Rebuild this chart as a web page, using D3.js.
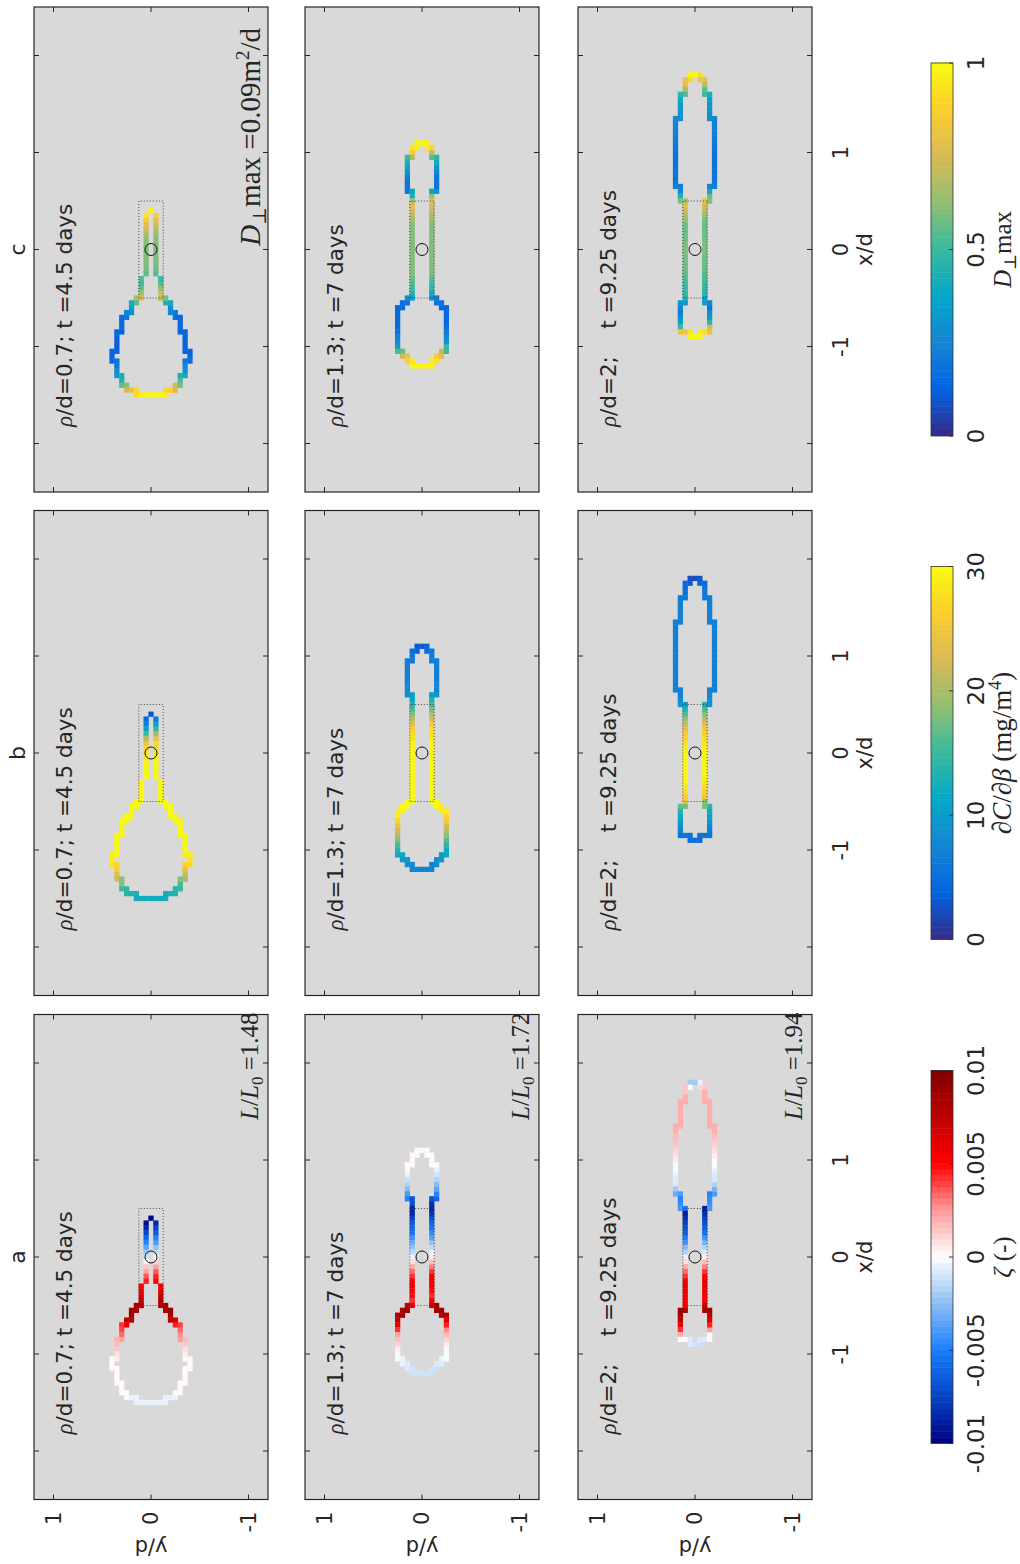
<!DOCTYPE html>
<html><head><meta charset="utf-8">
<script src="https://cdn.jsdelivr.net/npm/d3@7"></script>
<style>
body{margin:0;background:#fff}
text{font-family:"DejaVu Sans",sans-serif;fill:#262626}
.serif{font-family:"Liberation Serif","DejaVu Serif",serif}
</style>
</head><body>
<svg id="fig" width="1020" height="1564"></svg>
<script>
// ---------------- data ----------------
const columnTitles = ["a", "b", "c"];
const rowLabels = ["ρ/d=0.7; t =4.5 days", "ρ/d=1.3; t =7 days", "ρ/d=2;    t =9.25 days"];
const lengthRatios = ["1.48", "1.72", "1.94"];
const dperpMaxText = "0.09";
const xTicks = [-2, -1, 0, 1, 2];
const xTickLabels = ["", "-1", "0", "1", ""];
const yTicks = [1, 0, -1];
const yTickLabels = ["1", "0", "-1"];

// outline profiles: [x/d, half width y/d]
const profileRow1 = [[0.40,0.02],[0.30,0.04],[0.10,0.05],[-0.15,0.055],[-0.25,0.07],[-0.35,0.09],[-0.48,0.115],
  [-0.60,0.20],[-0.72,0.28],[-0.86,0.33],[-1.00,0.37],[-1.13,0.38],[-1.27,0.355],[-1.38,0.29],[-1.46,0.20],[-1.50,0.10],[-1.50,0.0]];
const profileRow2 = [[1.10,0.05],[1.03,0.10],[0.92,0.13],[0.75,0.15],[0.62,0.14],[0.55,0.11],[0.50,0.09],[0.25,0.09],[0.0,0.09],
  [-0.25,0.09],[-0.45,0.09],[-0.52,0.14],[-0.62,0.23],[-0.79,0.27],[-0.97,0.25],[-1.07,0.21],[-1.15,0.12],[-1.19,0.05]];
const profileRow3 = [[1.82,0.03],[1.71,0.09],[1.54,0.145],[1.30,0.185],[1.10,0.205],[0.96,0.21],[0.75,0.20],[0.62,0.165],[0.52,0.13],
  [0.48,0.09],[0.25,0.09],[0.0,0.09],[-0.25,0.09],[-0.48,0.09],[-0.54,0.13],[-0.62,0.17],[-0.76,0.17],[-0.83,0.13],[-0.88,0.05]];

// values along the profiles
const zetaRow1 = [-0.01,-0.008,-0.003,0.003,0.005,0.006,0.008,0.009,0.004,0.002,0.0005,0,0,0,-0.0005,-0.0005,-0.0005];
const zetaRow2 = [0,0,0,-0.002,-0.005,-0.008,-0.009,-0.005,0,0.006,0.004,0.009,0.008,0.002,0,-0.0005,-0.001,-0.001];
const zetaRow3 = [-0.002,0.002,0.002,0.002,0.001,0,-0.001,-0.005,-0.004,-0.009,-0.006,0,0.006,0.005,0.009,0.008,0.003,0,-0.001];
const gradRow1 = [3,8,27,30,30,30,30,30,30,30,30,28,22,15,13,12,12];
const gradRow2 = [3,6,7,7,8,12,14,27,30,30,30,30,29,22,14,10,8,7];
const gradRow3 = [2,5,7,7,7,7,7,7,9,13,25,30,30,25,16,12,8,6,5];
const dperpRow1 = [1.0,0.8,0.6,0.6,0.55,0.5,0.75,0.3,0.15,0.13,0.12,0.15,0.3,0.55,0.85,1.0,1.0];
const dperpRow2 = [1.0,0.9,0.45,0.2,0.2,0.5,0.8,0.6,0.6,0.6,0.45,0.2,0.15,0.15,0.3,0.7,0.95,1.0];
const dperpRow3 = [1.0,0.75,0.35,0.25,0.2,0.18,0.18,0.25,0.6,0.8,0.55,0.6,0.55,0.45,0.3,0.2,0.4,0.8,1.0];

// colour bars
const zetaTicks = [-0.01, -0.005, 0, 0.005, 0.01];
const zetaTickLabels = ["-0.01", "-0.005", "0", "0.005", "0.01"];
const gradTicks = [0, 10, 20, 30];
const dperpTicks = [0, 0.5, 1];
const dperpTickLabels = ["0", "0.5", "1"];
const zetaColors = ["#00007f","#0543c4","#1a7fff","#8dbff2","#ffffff","#ff9a9a","#ff0000","#bf0000","#7f0000"];
const parulaColors = ["#352a87","#0363e1","#1485d4","#06a7c6","#38b99e","#92bf73","#d9ba56","#fcce2e","#f9fb0e"];

// ---------------- drawing ----------------
const svg = d3.select("#fig");
const root = svg.append("g").attr("transform", "translate(0,1564) rotate(-90)");

const panelW = 485, panelH = 234;
const colX = [64.5, 568.5, 1072];
const rowY = [34, 305, 578];
const xS = d3.scaleLinear().domain([-2.5, 2.5]).range([0, panelW]);
const yS = d3.scaleLinear().domain([-1.2, 1.2]).range([panelH, 0]);
const cell = 0.05;

function makeScale(domain, colors) {
  const stops = colors.map((c, i) => domain[0] + (domain[1] - domain[0]) * i / (colors.length - 1));
  const lin = d3.scaleLinear().domain(stops).range(colors).interpolate(d3.interpolateRgb).clamp(true);
  const n = 64;
  return v => {
    let t = (v - domain[0]) / (domain[1] - domain[0]);
    let k = Math.min(n - 1, Math.max(0, Math.floor(t * n)));
    return lin(domain[0] + (k + 0.5) / n * (domain[1] - domain[0]));
  };
}
const zetaColor = makeScale([-0.01, 0.01], zetaColors);
const gradColor = makeScale([0, 30], parulaColors);
const dperpColor = makeScale([0, 1], parulaColors);

function outlineCells(profile, values) {
  const pts = [];
  profile.forEach((p, i) => pts.push([p[0], p[1], values[i]]));
  for (let i = profile.length - 1; i >= 0; i--) pts.push([profile[i][0], -profile[i][1], values[i]]);
  const cells = new Map();
  for (let i = 0; i < pts.length; i++) {
    const a = pts[i], b = pts[(i + 1) % pts.length];
    const len = Math.hypot(b[0] - a[0], b[1] - a[1]);
    const n = Math.max(1, Math.ceil(len / 0.008));
    for (let k = 0; k < n; k++) {
      const t = k / n;
      const x = a[0] + (b[0] - a[0]) * t, y = a[1] + (b[1] - a[1]) * t, v = a[2] + (b[2] - a[2]) * t;
      const ix = Math.round(x / cell), iy = Math.round(y / cell);
      const key = ix + "," + iy;
      if (!cells.has(key)) cells.set(key, { ix, iy, v });
    }
  }
  return [...cells.values()];
}

const profiles = [profileRow1, profileRow2, profileRow3];
const panelValues = [
  [zetaRow1, gradRow1, dperpRow1],
  [zetaRow2, gradRow2, dperpRow2],
  [zetaRow3, gradRow3, dperpRow3]
];
const colorFns = [zetaColor, gradColor, dperpColor];

for (let r = 0; r < 3; r++) {
  for (let c = 0; c < 3; c++) {
    const g = root.append("g").attr("transform", `translate(${colX[c]},${rowY[r]})`);
    g.append("rect").attr("width", panelW).attr("height", panelH).attr("fill", "#d9d9d9");
    const cells = outlineCells(profiles[r], panelValues[r][c]);
    const cw = xS(cell) - xS(0);
    g.selectAll("rect.cell").data(cells).join("rect").attr("class", "cell")
      .attr("x", d => xS(d.ix * cell) - cw / 2 - 0.2)
      .attr("y", d => yS(d.iy * cell) - cw / 2 - 0.2)
      .attr("width", cw + 0.4).attr("height", cw + 0.4)
      .attr("fill", d => colorFns[c](d.v));
    // dotted box and circle
    g.append("rect").attr("x", xS(-0.5)).attr("y", yS(0.125))
      .attr("width", xS(0.5) - xS(-0.5)).attr("height", yS(-0.125) - yS(0.125))
      .attr("fill", "none").attr("stroke", "#333").attr("stroke-width", 0.9).attr("stroke-dasharray", "1,2");
    g.append("circle").attr("cx", xS(0)).attr("cy", yS(0)).attr("r", 6)
      .attr("fill", "none").attr("stroke", "#111").attr("stroke-width", 1);
    // frame and ticks
    g.append("rect").attr("width", panelW).attr("height", panelH).attr("fill", "none")
      .attr("stroke", "#262626").attr("stroke-width", 1.2);
    xTicks.forEach(t => {
      g.append("line").attr("x1", xS(t)).attr("x2", xS(t)).attr("y1", panelH).attr("y2", panelH - 5).attr("stroke", "#262626");
      g.append("line").attr("x1", xS(t)).attr("x2", xS(t)).attr("y1", 0).attr("y2", 5).attr("stroke", "#262626");
    });
    yTicks.forEach(t => {
      g.append("line").attr("x1", 0).attr("x2", 5).attr("y1", yS(t)).attr("y2", yS(t)).attr("stroke", "#262626");
      g.append("line").attr("x1", panelW).attr("x2", panelW - 5).attr("y1", yS(t)).attr("y2", yS(t)).attr("stroke", "#262626");
    });
    // row label
    const lab = g.append("text").attr("x", xS(-1.83)).attr("y", 38).attr("font-size", 21.5).style("white-space", "pre");
    const parts = rowLabels[r].split("ρ");
    lab.append("tspan").attr("class", "serif").attr("font-style", "italic").attr("font-size", 23).text("ρ");
    lab.append("tspan").text(parts[1]);
    if (c === 0) {
      const t = g.append("text").attr("class", "serif").attr("x", panelW + 2).attr("y", 224)
        .attr("text-anchor", "end").attr("font-size", 25);
      t.append("tspan").attr("font-style", "italic").text("L");
      t.append("tspan").text("/");
      t.append("tspan").attr("font-style", "italic").text("L");
      t.append("tspan").attr("font-size", 17).attr("dy", 5).text("0");
      t.append("tspan").attr("dy", -5).text(" =" + lengthRatios[r]);
    }
    if (c === 2 && r === 0) {
      const t = g.append("text").attr("class", "serif").attr("x", panelW - 21).attr("y", 226)
        .attr("text-anchor", "end").attr("font-size", 29);
      t.append("tspan").attr("font-style", "italic").text("D");
      t.append("tspan").attr("font-size", 19).attr("dy", 6).text("⊥");
      t.append("tspan").attr("dy", -6).text("max =" + dperpMaxText + "m");
      t.append("tspan").attr("font-size", 19).attr("dy", -11).text("2");
      t.append("tspan").attr("dy", 11).text("/d");
    }
    if (c === 0) {
      yTicks.forEach((t, i) => {
        g.append("text").attr("x", -12).attr("y", yS(t)).attr("dy", "0.35em")
          .attr("text-anchor", "end").attr("font-size", 21).text(yTickLabels[i]);
      });
      g.append("text").attr("transform", `translate(-40.5,${panelH / 2}) rotate(-90)`)
        .attr("text-anchor", "middle").attr("font-size", 21).text("y/d");
    }
    if (r === 2) {
      xTicks.forEach((t, i) => {
        g.append("text").attr("x", xS(t)).attr("y", panelH + 36)
          .attr("text-anchor", "middle").attr("font-size", 21).text(xTickLabels[i]);
      });
      g.append("text").attr("x", xS(0)).attr("y", panelH + 60)
        .attr("text-anchor", "middle").attr("font-size", 21).text("x/d");
    }
    if (r === 0) {
      g.append("text").attr("x", xS(0)).attr("y", -9).attr("text-anchor", "middle")
        .attr("font-size", 22).text(columnTitles[c]);
    }
  }
}

// colour bars
const cbY = 931, cbH = 22, cbLen = 373;
const cbDefs = [
  { domain: [-0.01, 0.01], colors: zetaColors, ticks: zetaTicks, labels: zetaTickLabels },
  { domain: [0, 30], colors: parulaColors, ticks: gradTicks, labels: gradTicks.map(String) },
  { domain: [0, 1], colors: parulaColors, ticks: dperpTicks, labels: dperpTickLabels }
];
cbDefs.forEach((cb, c) => {
  const x0 = colX[c] + (panelW - cbLen) / 2;
  const s = d3.scaleLinear().domain(cb.domain).range([x0, x0 + cbLen]);
  const fn = colorFns[c];
  const n = 64;
  const g = root.append("g");
  d3.range(n).forEach(k => {
    const v = cb.domain[0] + (k + 0.5) / n * (cb.domain[1] - cb.domain[0]);
    g.append("rect").attr("x", x0 + k * cbLen / n).attr("y", cbY)
      .attr("width", cbLen / n + 0.5).attr("height", cbH).attr("fill", fn(v));
  });
  g.append("rect").attr("x", x0).attr("y", cbY).attr("width", cbLen).attr("height", cbH)
    .attr("fill", "none").attr("stroke", "#333").attr("stroke-width", 0.8);
  cb.ticks.forEach((t, i) => {
    g.append("line").attr("x1", s(t)).attr("x2", s(t)).attr("y1", cbY + cbH).attr("y2", cbY + cbH - 4).attr("stroke", "#333");
    g.append("text").attr("x", s(t)).attr("y", cbY + 53).attr("text-anchor", "middle")
      .attr("font-size", 23).text(cb.labels[i]);
  });
  const cx = x0 + cbLen / 2;
  const lt = g.append("text").attr("class", "serif").attr("x", cx).attr("y", cbY + 80)
    .attr("text-anchor", "middle").attr("font-size", c === 1 ? 27 : 25);
  if (c === 0) {
    lt.append("tspan").attr("font-style", "italic").text("ζ");
    lt.append("tspan").text(" (-)");
  } else if (c === 1) {
    lt.append("tspan").text("∂");
    lt.append("tspan").attr("font-style", "italic").text("C");
    lt.append("tspan").text("/∂");
    lt.append("tspan").attr("font-style", "italic").text("β");
    lt.append("tspan").text(" (mg/m");
    lt.append("tspan").attr("font-size", 18).attr("dy", -10).text("4");
    lt.append("tspan").attr("dy", 10).text(")");
  } else {
    lt.append("tspan").attr("font-style", "italic").text("D");
    lt.append("tspan").attr("font-size", 17).attr("dy", 5).text("⊥");
    lt.append("tspan").attr("dy", -5).text("max");
  }
});
</script>
</body></html>
